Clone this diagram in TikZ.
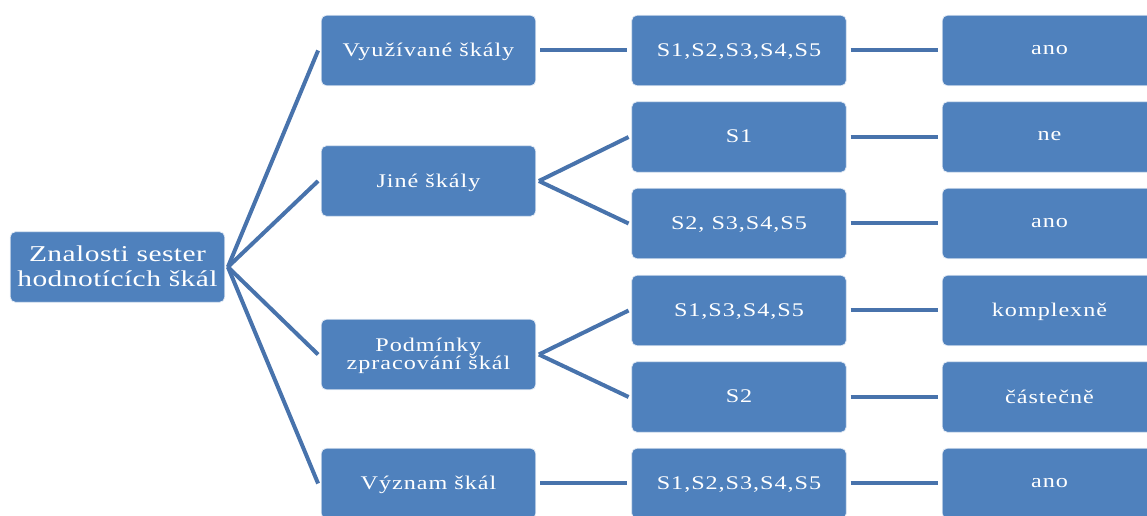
\documentclass[tikz,border=0pt]{standalone}
\usepackage{fontspec}
\setmainfont{Liberation Serif}
\newfontfamily\boxfont[FakeStretch=1.25,LetterSpace=5]{Liberation Serif}
\newfontfamily\rootfont[FakeStretch=1.3,LetterSpace=2]{Liberation Serif}
\definecolor{boxblue}{RGB}{79,129,189}
\definecolor{linkblue}{RGB}{72,115,172}
\begin{document}
\begin{tikzpicture}[x=0.75pt,y=-0.75pt,
  box/.style={draw=white!85!boxblue,line width=0.6pt,fill=boxblue,rounded corners=4pt,minimum width=161pt,minimum height=53pt,text=white,align=center,font=\boxfont\fontsize{14.5}{14}\selectfont,inner sep=0pt,text depth=1pt},
  rootbox/.style={box,minimum width=161pt,font=\rootfont\fontsize{17}{18.5}\selectfont},
  link/.style={draw=linkblue,line width=3pt}]
\useasboundingbox (0,0) rectangle (1147,516);
\node[rootbox] (root) at (117.5,267) {Znalosti sester\\hodnotících škál};
\node[box] (a) at (428.5,50.5) {Využívané škály};
\node[box] (b) at (428.5,181) {Jiné škály};
\node[box] (c) at (428.5,354.5) {Podmínky\\zpracování škál};
\node[box] (d) at (428.5,483.5) {Význam škál};
\node[box] (a1) at (739,50.5) {S1,S2,S3,S4,S5};
\node[box] (b1) at (739,137) {S1};
\node[box] (b2) at (739,223.5) {S2, S3,S4,S5};
\node[box] (c1) at (739,310.5) {S1,S3,S4,S5};
\node[box] (c2) at (739,397) {S2};
\node[box] (d1) at (739,483.5) {S1,S2,S3,S4,S5};
\node[box] (a2) at (1049.5,50.5) {ano};
\node[box] (b11) at (1049.5,137) {ne};
\node[box] (b21) at (1049.5,223.5) {ano};
\node[box] (c11) at (1049.5,310.5) {komplexně};
\node[box] (c21) at (1049.5,397) {částečně};
\node[box] (d2) at (1049.5,483.5) {ano};
\foreach \t in {a,b,c,d} \draw[link] ([xshift=2pt]root.east) -- ([xshift=-2pt]\t.west);
\draw[link] ([xshift=3pt]a.east) -- ([xshift=-3pt]a1.west);
\draw[link] ([xshift=3pt]d.east) -- ([xshift=-3pt]d1.west);
\draw[link] ([xshift=2pt]b.east) -- ([xshift=-2pt]b1.west);
\draw[link] ([xshift=2pt]b.east) -- ([xshift=-2pt]b2.west);
\draw[link] ([xshift=2pt]c.east) -- ([xshift=-2pt]c1.west);
\draw[link] ([xshift=2pt]c.east) -- ([xshift=-2pt]c2.west);
\draw[link] ([xshift=3pt]a1.east) -- ([xshift=-3pt]a2.west);
\draw[link] ([xshift=3pt]b1.east) -- ([xshift=-3pt]b11.west);
\draw[link] ([xshift=3pt]b2.east) -- ([xshift=-3pt]b21.west);
\draw[link] ([xshift=3pt]c1.east) -- ([xshift=-3pt]c11.west);
\draw[link] ([xshift=3pt]c2.east) -- ([xshift=-3pt]c21.west);
\draw[link] ([xshift=3pt]d1.east) -- ([xshift=-3pt]d2.west);
\end{tikzpicture}
\end{document}
